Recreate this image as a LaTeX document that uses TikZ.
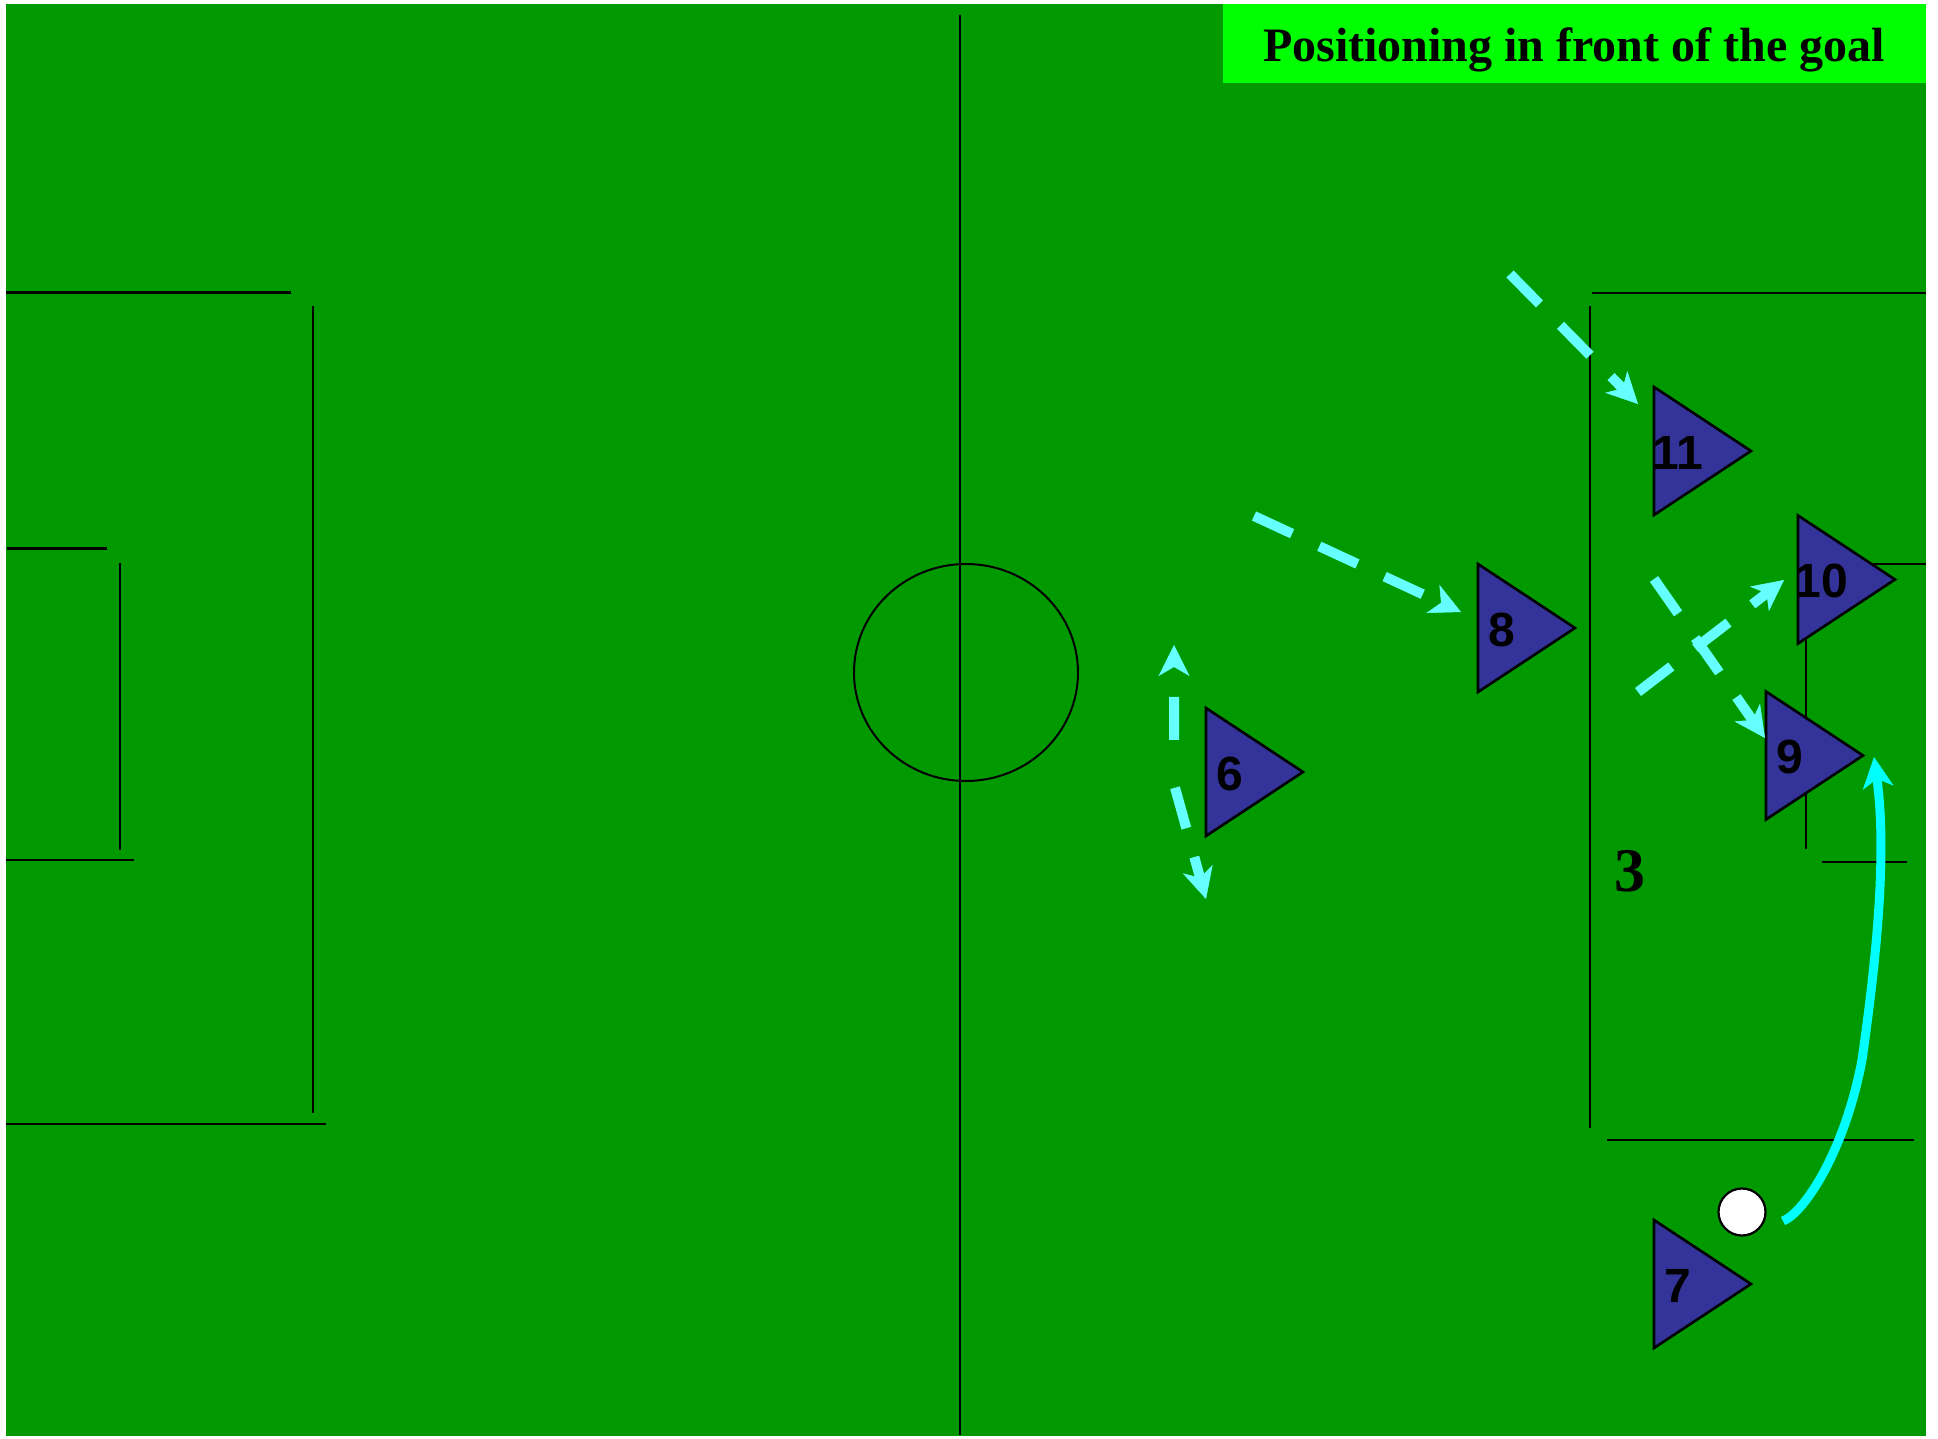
\documentclass[tikz,border=0pt]{standalone}
\usepackage{fontspec}
\setmainfont{Liberation Serif}
\newfontfamily\playerfont{Liberation Sans}
\usetikzlibrary{arrows.meta}
\definecolor{pitch}{HTML}{009900}
\definecolor{titlegreen}{HTML}{00FF00}
\definecolor{playerblue}{HTML}{333399}
\definecolor{runline}{HTML}{66FFFF}
\definecolor{passline}{HTML}{00FFFF}
\tikzset{
  fieldline/.style={line width=2.6pt, draw=black},
  thinline/.style={line width=2pt, draw=black},
  playerbody/.style={fill=playerblue, draw=black, line width=2.6pt, line join=miter},
  playerlabel/.style={font=\playerfont\bfseries\fontsize{48}{48}\selectfont, inner sep=0pt, text=black},
  runarrow/.style={draw=runline, line width=10pt, dash pattern=on 42pt off 30pt,
    -{Stealth[length=31pt,width=31pt,inset=9pt,line width=0.5pt]}},
  runboth/.style={draw=runline, line width=10pt, dash pattern=on 43pt off 48pt on 42pt off 30pt, dash phase=133pt,
    {Stealth[length=31pt,width=31pt,inset=9pt,line width=0.5pt]}-{Stealth[length=31pt,width=31pt,inset=9pt,line width=0.5pt]}},
  passarrow/.style={draw=passline, line width=9pt,
    -{Stealth[length=31pt,width=31pt,inset=9pt,line width=0.5pt]}},
}
\newcommand\drawplayer[4]{%
  \filldraw[playerbody] (#2,#3) -- ++(0,128) -- ++(97,-64) -- cycle;
  \node[playerlabel] (#1) at (#2+23.5,#3+65.5) {#4};
}
\begin{document}
\begin{tikzpicture}[x=1pt,y=-1pt]
\fill[white] (0,0) rectangle (1938,1439);
\useasboundingbox (0,0) rectangle (1938,1439);
\fill[pitch] (6,4) rectangle (1926,1436);
% title
\fill[titlegreen] (1223,4) rectangle (1926,83);
\node[font=\bfseries\fontsize{48}{48}\selectfont, anchor=base, inner sep=0pt] (title) at (1574,62) {Positioning in front of the goal};
% halfway line and circle
\draw[thinline] (960,15) -- (960,1435);
\draw[thinline] (966,672.5) ellipse [x radius=112, y radius=108.5];
% left penalty area
\draw[fieldline] (6,292.5) -- (291,292.5);
\draw[fieldline] (313,306) -- (313,1113);
\draw[fieldline] (6,1124) -- (326,1124);
\draw[fieldline] (7,548.5) -- (107,548.5);
\draw[fieldline] (120,563) -- (120,850);
\draw[fieldline] (6,860) -- (134,860);
% right penalty area
\draw[fieldline] (1592,293) -- (1926,293);
\draw[fieldline] (1590,306) -- (1590,1128);
\draw[fieldline] (1607,1140) -- (1914,1140);
\draw[fieldline] (1806,564) -- (1926,564);
\draw[fieldline] (1806,564) -- (1806,849);
\draw[fieldline] (1822,862) -- (1907,862);
% zone number
\node[font=\bfseries\fontsize{62}{62}\selectfont, anchor=base, inner sep=0pt] (zone) at (1630,891) {3};
% players
\drawplayer{p11}{1654}{387}{11}
\drawplayer{p10}{1798}{515.5}{10}
\drawplayer{p8}{1478}{564}{8}
\drawplayer{p9}{1766}{691.5}{9}
\drawplayer{p6}{1206}{708}{6}
\drawplayer{p7}{1654}{1220}{7}
% ball
\node[circle, draw=black, fill=white, line width=2.2pt, minimum size=47pt, inner sep=0pt] (ball) at (1742,1212) {};
% runs
\coordinate (r11s) at (1510,274);
\coordinate (r11e) at (1638,404);
\draw[runarrow] (r11s) -- (r11e);
\coordinate (r8s) at (1254,516);
\coordinate (r8e) at (1461,612);
\draw[runarrow] (r8s) -- (r8e);
\coordinate (r10s) at (1638,692);
\coordinate (r10e) at (1784,580);
\draw[runarrow] (r10s) -- (r10e);
\coordinate (r9s) at (1654,579);
\coordinate (r9e) at (1765,738);
\draw[runarrow] (r9s) -- (r9e);
\coordinate (r6a) at (1174,645);
\coordinate (r6b) at (1174,784);
\coordinate (r6c) at (1206,899);
\draw[runboth] (r6a) -- (r6b) -- (r6c);
% pass
\coordinate (c7s) at (1783,1221);
\coordinate (c7m) at (1862,1060);
\coordinate (c7e) at (1874,757);
\draw[passarrow] (c7s) .. controls (1805,1212) and (1845,1150) .. (c7m) .. controls (1874,975) and (1888,860) .. (c7e);
\end{tikzpicture}
\end{document}
